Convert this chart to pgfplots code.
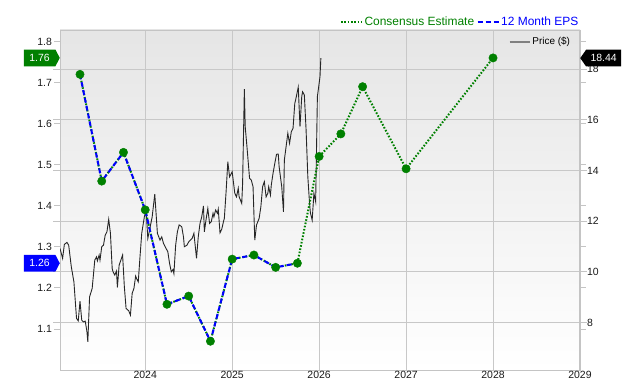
\documentclass[border=0pt]{standalone}
\usepackage{pgfplots}
\pgfplotsset{compat=1.18}
\usepackage{pgfplotstable}
\usepackage{fontspec}
\setmainfont{Liberation Sans}
\usetikzlibrary{shapes.symbols}
\definecolor{epsgreen}{RGB}{0,128,0}
\definecolor{epsblue}{RGB}{0,0,255}
\definecolor{gridgray}{RGB}{200,200,200}
\definecolor{framegray}{RGB}{196,196,196}

\pgfplotstableread{
x y
2023.02 10.92
2023.05 10.53
2023.07 11.08
2023.10 11.16
2023.12 11.05
2023.15 10.20
2023.18 9.60
2023.21 8.16
2023.23 8.06
2023.25 8.84
2023.27 8.09
2023.29 8.02
2023.31 8.05
2023.33 7.63
2023.34 7.23
2023.36 9.01
2023.39 9.34
2023.42 10.46
2023.44 10.59
2023.45 10.43
2023.47 10.66
2023.48 10.46
2023.50 10.99
2023.52 11.05
2023.54 11.45
2023.56 11.58
2023.58 12.07
2023.60 11.52
2023.62 10.13
2023.63 10.00
2023.65 9.87
2023.67 10.03
2023.68 9.38
2023.70 10.26
2023.74 10.66
2023.76 9.41
2023.78 8.55
2023.81 8.46
2023.83 8.29
2023.85 9.15
2023.87 9.34
2023.89 9.83
2023.90 9.74
2023.92 9.60
2023.94 10.59
2023.96 11.52
2023.99 12.17
2024.01 12.44
2024.03 11.32
2024.05 11.65
2024.08 12.17
2024.11 13.07
2024.14 11.52
2024.17 11.25
2024.19 11.38
2024.21 11.12
2024.24 10.92
2024.26 10.79
2024.28 10.33
2024.30 10.00
2024.32 10.09
2024.33 9.93
2024.35 11.05
2024.37 11.58
2024.39 11.85
2024.42 11.78
2024.44 11.38
2024.45 10.99
2024.48 11.05
2024.50 11.18
2024.54 11.32
2024.56 11.52
2024.59 10.53
2024.61 11.38
2024.63 11.91
2024.65 12.17
2024.67 12.60
2024.68 11.58
2024.70 12.07
2024.72 12.50
2024.74 11.91
2024.76 11.98
2024.78 12.31
2024.79 12.17
2024.81 12.44
2024.83 12.31
2024.84 12.47
2024.86 11.54
2024.88 11.68
2024.90 11.98
2024.91 12.11
2024.93 13.16
2024.95 14.35
2024.97 13.75
2025.00 13.95
2025.03 13.10
2025.05 12.96
2025.07 13.30
2025.08 12.96
2025.11 12.70
2025.12 13.49
2025.14 17.21
2025.15 15.73
2025.17 14.94
2025.20 13.69
2025.22 13.62
2025.24 13.36
2025.26 11.25
2025.28 11.85
2025.31 12.11
2025.33 12.57
2025.35 13.36
2025.37 13.56
2025.39 12.96
2025.41 13.10
2025.42 13.36
2025.44 13.03
2025.45 13.43
2025.47 13.89
2025.49 14.28
2025.51 14.64
2025.53 14.65
2025.54 14.15
2025.57 13.36
2025.59 12.37
2025.60 14.41
2025.62 14.94
2025.64 15.47
2025.66 15.07
2025.68 15.53
2025.70 15.67
2025.72 16.65
2025.73 16.79
2025.76 17.29
2025.78 15.73
2025.80 16.92
2025.81 17.11
2025.83 16.98
2025.85 15.60
2025.87 13.75
2025.89 12.70
2025.90 12.32
2025.92 12.04
2025.94 13.10
2025.96 12.77
2025.98 16.92
2025.99 17.18
2026.01 17.71
2026.02 18.44
}\pricetable

\pgfplotstableread{
x y
2023.25 1.72
2023.50 1.46
2023.75 1.53
2024.00 1.39
2024.25 1.16
2024.50 1.18
2024.75 1.07
2025.00 1.27
2025.25 1.28
2025.50 1.25
2025.75 1.26
}\epstable

\pgfplotstableread{
x y
2023.25 1.72
2023.50 1.46
2023.75 1.53
2024.00 1.39
2024.25 1.16
2024.50 1.18
2024.75 1.07
2025.00 1.27
2025.25 1.28
2025.50 1.25
2025.75 1.26
2026.00 1.52
2026.25 1.575
2026.50 1.69
2027.00 1.49
2028.00 1.76
}\alltable

\begin{document}
\begin{tikzpicture}[x=1bp,y=1bp]
\begin{axis}[
  at={(60bp,10bp)}, anchor=south west, scale only axis,
  width=520bp, height=340bp,
  xmin=2023.02, xmax=2029, ymin=6.12, ymax=19.55,
  axis background/.style={shade, top color=gray!20, middle color=white, bottom color=white},
  xtick={2024,2025,2026,2027,2028,2029},
  xticklabels={2024,2025,2026,2027,2028,2029},
  ytick={8,10,12,14,16,18},
  yticklabel pos=right,
  grid=major,
  major grid style={draw=gridgray, line width=0.8bp},
  axis line style={draw=framegray, line width=0.8bp},
  xtick style={draw=none},
  ytick style={draw=framegray, line width=0.8bp},
  ytick align=outside, major tick length=7bp,
  tick label style={font=\fontsize{10.5}{12}\selectfont, text=black!90},
  /pgf/number format/assume math mode=true,
  xticklabel style={inner sep=0pt, anchor=north, yshift=-1.2bp},
  yticklabel style={inner sep=0pt, anchor=west},
  legend style={at={(0.985,0.985)}, anchor=north east, draw=none, fill=none,
    font=\fontsize{10}{12}\selectfont, inner sep=0pt},
  legend cell align=left,
  legend image code/.code={\draw[gray, line width=1.6bp] (0bp,0bp) -- (20bp,0bp);},
]
\addplot[black!85, line width=0.9bp, mark=none] table[x=x,y=y] {\pricetable};
\addlegendentry{Price (\$)}
\coordinate (p1844) at (axis cs:2029,18.44);
\draw[framegray, line width=1.6bp] (rel axis cs:1,0) -- (rel axis cs:1,1);
\end{axis}

\begin{axis}[
  at={(60bp,10bp)}, anchor=south west, scale only axis,
  width=520bp, height=340bp,
  xmin=2023.02, xmax=2029, ymin=1.0, ymax=1.828,
  axis line style={draw=none},
  xtick=\empty,
  ytick={1.1,1.2,1.3,1.4,1.5,1.6,1.7,1.8},
  yticklabel pos=left,
  /pgf/number format/fixed,
  /pgf/number format/fixed zerofill,
  /pgf/number format/precision=1,
  ytick style={draw=framegray, line width=0.8bp},
  ytick align=outside, major tick length=6bp,
  tick label style={font=\fontsize{10.5}{12}\selectfont, text=black!90},
  /pgf/number format/assume math mode=true,
  yticklabel style={inner sep=0pt, anchor=east, xshift=-2bp},
  legend style={at={(1,1)}, anchor=south east, draw=none, fill=none,
    font=\fontsize{12}{14}\selectfont, inner sep=0pt, yshift=1bp,
    nodes={inner xsep=1.5bp},
    /tikz/every even column/.append style={column sep=1bp}},
  legend columns=2,
  legend image code/.code={\draw[#1, mark=none] (0bp,0bp) -- (21bp,0bp);},
]
\addplot[epsgreen, line width=2bp, dash pattern=on 1.6bp off 1.7bp, mark=none] table[x=x,y=y] {\alltable};
\addlegendentry{\textcolor{epsgreen}{Consensus Estimate}}
\addplot[epsblue, line width=2bp, dash pattern=on 5bp off 3bp, mark=none] table[x=x,y=y] {\epstable};
\addlegendentry{\textcolor{epsblue}{12 Month EPS}}
\addplot[only marks, mark=*, mark size=4.2bp, mark options={fill=epsgreen, draw=epsgreen}, forget plot] table[x=x,y=y] {\alltable};
\coordinate (e176) at (axis cs:2023.02,1.76);
\coordinate (e126) at (axis cs:2023.02,1.26);
\end{axis}

\node[signal, signal to=east, signal pointer angle=125, fill=epsgreen, text=white,
  font=\fontsize{10.5}{12}\selectfont, minimum width=36bp, minimum height=16.7bp,
  inner sep=0pt, anchor=east] at (e176) {1.76};
\node[signal, signal to=east, signal pointer angle=125, fill=epsblue, text=white,
  font=\fontsize{10.5}{12}\selectfont, minimum width=36bp, minimum height=16.7bp,
  inner sep=0pt, anchor=east] at (e126) {1.26};
\node[signal, signal to=west, signal pointer angle=110, fill=black, text=white,
  font=\fontsize{10.5}{12}\selectfont, minimum width=41bp, minimum height=16.7bp,
  inner sep=0pt, anchor=west] at (p1844) {18.44};

\pgfresetboundingbox
\path (0bp,0bp) rectangle (640bp,380bp);
\end{tikzpicture}
\end{document}
